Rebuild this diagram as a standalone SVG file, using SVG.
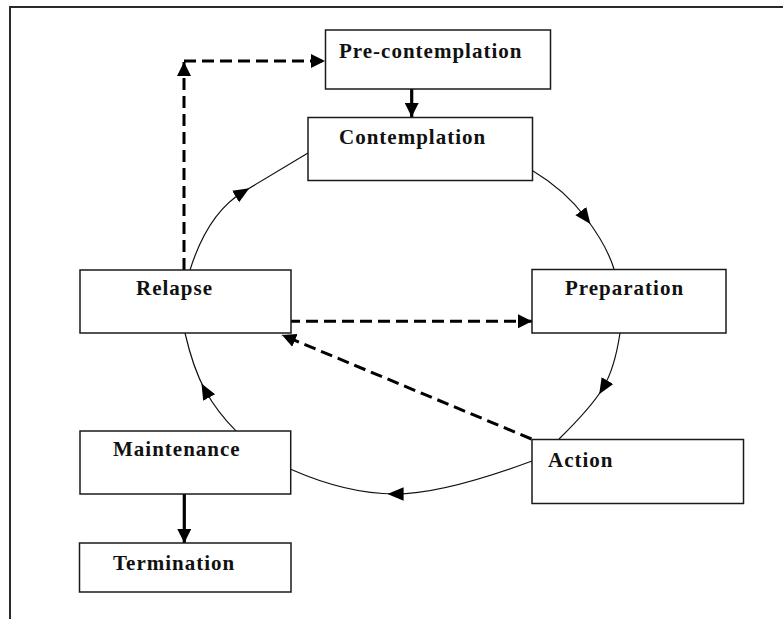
<svg xmlns="http://www.w3.org/2000/svg" width="783" height="619" viewBox="0 0 783 619">
<style>
.box{fill:#fff;stroke:#1a1a1a;stroke-width:1.5}
.lbl{font-family:"Liberation Serif","Times New Roman",serif;font-weight:bold;font-size:21px;letter-spacing:1px;fill:#111}
.arc{fill:none;stroke:#111;stroke-width:1.2;marker-mid:url(#ah)}
.dash{fill:none;stroke:#000;stroke-width:3;stroke-dasharray:12 6}
.solid{fill:none;stroke:#000;stroke-width:3.2}
.frame{fill:none;stroke:#2a2a2a;stroke-width:2}
</style>
<defs>
<marker id="ah" markerUnits="userSpaceOnUse" markerWidth="16" markerHeight="16" viewBox="0 0 13 11" refX="7" refY="5.5" orient="auto">
<path d="M0,0 L13,5.5 L0,11 z" fill="#000"/>
</marker>
<marker id="ae" markerUnits="userSpaceOnUse" markerWidth="14" markerHeight="14" viewBox="0 0 12 12" refX="12" refY="6" orient="auto">
<path d="M0,0 L12,6 L0,12 z" fill="#000"/>
</marker>
</defs>
<rect width="783" height="619" fill="#fff"/>
<path class="frame" d="M10,619 L10,7 L783,7"/>
<g id="connectors">
<path class="arc" d="M190,270 Q208,213 243,192 T308,153"/>
<path class="arc" d="M532.7,170.7 Q565,190 586,218 T614,269"/>
<path class="arc" d="M620,333 Q614.7,368.6 603,388 T559,439"/>
<path class="arc" d="M532,461 Q443,494 395,494 T290.7,469.3"/>
<path class="arc" d="M236.7,431.7 Q217,412 205,390 T185,333"/>
<path class="dash" d="M184,270 L184,62" marker-end="url(#ae)"/>
<path class="dash" d="M184,61 L325,61" marker-end="url(#ae)"/>
<path class="dash" d="M288,321.3 L532,321.3" marker-end="url(#ae)"/>
<path class="dash" stroke-width="2.6" d="M531.5,439 L282,335" marker-end="url(#ae)"/>
<path class="solid" d="M411.7,89 L411.7,117" marker-end="url(#ae)"/>
<path class="solid" d="M184.3,494 L184.3,543" marker-end="url(#ae)"/>
</g>
<g id="precontemplation">
<rect class="box" x="325.5" y="30" width="225" height="59"/>
<text class="lbl" x="339" y="58">Pre-contemplation</text>
</g>
<g id="contemplation">
<rect class="box" x="308" y="117.5" width="224.5" height="63"/>
<text class="lbl" x="339" y="144">Contemplation</text>
</g>
<g id="relapse">
<rect class="box" x="80" y="270" width="211" height="63"/>
<text class="lbl" x="136" y="295">Relapse</text>
</g>
<g id="preparation">
<rect class="box" x="532" y="269.5" width="194" height="63.5"/>
<text class="lbl" x="565" y="295">Preparation</text>
</g>
<g id="action">
<rect class="box" x="532" y="439.5" width="211.5" height="64"/>
<text class="lbl" x="548" y="466.5">Action</text>
</g>
<g id="maintenance">
<rect class="box" x="80" y="431" width="210.7" height="63"/>
<text class="lbl" x="113" y="456">Maintenance</text>
</g>
<g id="termination">
<rect class="box" x="79.5" y="543" width="211.5" height="49"/>
<text class="lbl" x="113" y="570">Termination</text>
</g>
</svg>
